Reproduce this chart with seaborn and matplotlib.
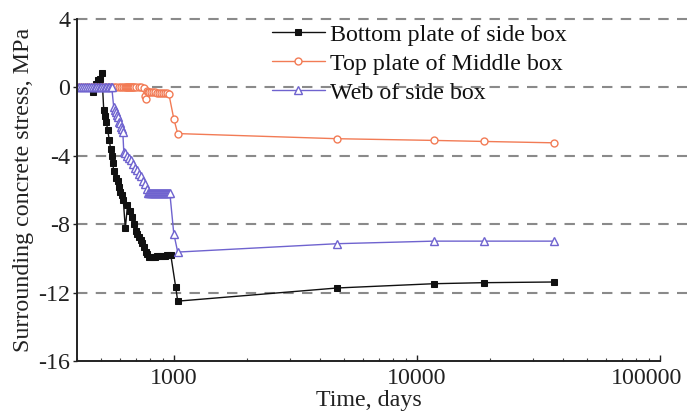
import matplotlib
matplotlib.use("Agg")
import matplotlib.pyplot as plt
import matplotlib.ticker as mticker
import matplotlib.transforms as mtransforms
import seaborn as sns
import pandas as pd

# Bottom plate of side box
bottom_days = [400, 412, 424, 436, 448, 458, 465, 472, 480, 490, 498, 506,
               515, 520, 528, 535, 543, 550, 556, 561, 566, 577, 587, 594,
               602, 611, 620, 632, 645, 659, 672, 685, 698, 708, 718, 732,
               743, 756, 767, 778, 789, 804, 819, 835, 851, 868, 884, 901,
               918, 936, 954, 972, 1019, 1038, 4700, 11750, 18800, 36500]
bottom_stress = [0, 0, 0, 0, 0, 0, -0.25, 0.05, 0.2, 0.45, 0.5, 0.85,
                 -1.3, -1.7, -2.05, -2.5, -3.1, -3.6, -4.0, -4.4, -4.9, -5.3, -5.5, -5.8,
                 -6.1, -6.3, -6.6, -8.25, -6.9, -7.2, -7.6, -8.0, -8.4, -8.6, -8.75, -8.95,
                 -9.1, -9.35, -9.6, -9.75, -9.9, -9.9, -9.9, -9.9, -9.88, -9.88, -9.85, -9.85,
                 -9.85, -9.83, -9.82, -9.8, -11.7, -12.5, -11.73, -11.48, -11.42, -11.38]

# Top plate of Middle box
top_days = [400, 415, 430, 445, 460, 475, 490, 505, 520, 535, 550, 566,
            580, 594, 605, 617, 629, 635, 641, 647, 653, 659, 665, 672,
            678, 685, 698, 718, 735, 753, 760, 767, 774, 782, 789, 804,
            819, 835, 851, 868, 884, 901, 918, 936, 954, 1000, 1038,
            4700, 11750, 18800, 36500]
top_stress = [0, 0, 0, 0, 0, 0, 0, 0, 0, 0, 0, 0,
              0, 0, 0, 0, 0, 0, 0, 0, 0, 0, 0, 0,
              0, 0, 0, 0, 0, -0.05, -0.5, -0.65, -0.2, -0.25, -0.27, -0.27,
              -0.28, -0.28, -0.3, -0.3, -0.3, -0.32, -0.33, -0.35, -0.37, -1.83, -2.7,
              -3.0, -3.1, -3.16, -3.24]

# Web of side box
web_days = [400, 408, 416, 424, 432, 440, 448, 456, 464, 472, 480, 488,
            496, 504, 512, 520, 528, 536, 544, 551, 556,
            566, 572, 577, 583, 588, 594, 599, 605, 611, 617, 623, 632,
            641, 653, 665, 678, 691, 705, 718, 732, 746, 760, 774, 782,
            789, 797, 804, 812, 819, 827, 835, 843, 851, 860, 868, 876,
            884, 893, 901, 910, 918, 927, 936, 945, 954, 963, 1000, 1038,
            4700, 11750, 18800, 36500]
web_stress = [0, 0, 0, 0, 0, 0, 0, 0, 0, 0, 0, 0,
              0, 0, 0, 0, 0, 0, 0, 0, 0,
              -1.15, -1.3, -1.45, -1.6, -1.75, -2.0, -2.1, -2.3, -2.45, -2.6, -3.8, -3.85,
              -4.0, -4.15, -4.25, -4.5, -4.7, -4.85, -5.05, -5.2, -5.45, -5.65, -5.95, -6.15,
              -6.2, -6.2, -6.2, -6.2, -6.2, -6.2, -6.2, -6.2, -6.2, -6.2, -6.2, -6.2,
              -6.2, -6.18, -6.18, -6.18, -6.18, -6.18, -6.17, -6.17, -6.15, -6.15, -8.55, -9.63,
              -9.14, -8.99, -8.99, -8.99]

series_labels = ["Bottom plate of side box", "Top plate of Middle box", "Web of side box"]
y_ticks = [4, 0, -4, -8, -12, -16]
x_ticks = [1000, 10000, 100000]
x_tick_labels = ["1000", "10000", "100000"]

FS = 17.3

sns.set_theme(style="ticks")
plt.rcParams["font.family"] = ["Liberation Serif", "DejaVu Serif"]
plt.rcParams["font.size"] = FS

fig = plt.figure(figsize=(6.94, 4.17), dpi=100)
ax = fig.add_axes([0.111, 0.1343, 0.840, 0.8201])

# dashed reference lines, running a little past the right end of the axis
for yv in y_ticks[:-1]:
    ax.axhline(yv, xmin=0, xmax=1.047, color="#8a8a8a", lw=1.5,
               ls=(0, (5, 4)), zorder=0.5, clip_on=False)

black = "#111111"
orange = "#F27B55"
purple = "#6F63CF"

df_b = pd.DataFrame({"days": bottom_days, "stress": bottom_stress})
df_t = pd.DataFrame({"days": top_days, "stress": top_stress})
df_w = pd.DataFrame({"days": web_days, "stress": web_stress})

sns.lineplot(data=df_b, x="days", y="stress", ax=ax, color=black, lw=1.0,
             marker="s", markersize=4.8, mfc=black, mec=black,
             estimator=None, sort=False, label=series_labels[0])
sns.lineplot(data=df_t, x="days", y="stress", ax=ax, color=orange, lw=1.0,
             marker="o", markersize=5, mfc="white", mec=orange, mew=1.0,
             estimator=None, sort=False, label=series_labels[1])
sns.lineplot(data=df_w, x="days", y="stress", ax=ax, color=purple, lw=1.0,
             marker="^", markersize=5.5, mfc="white", mec=purple, mew=1.0,
             estimator=None, sort=False, label=series_labels[2])

ax.set_xscale("log")
ax.set_xlim(400, 100000)
ax.set_ylim(-16, 4)
ax.xaxis.set_major_locator(mticker.FixedLocator(x_ticks))
ax.xaxis.set_major_formatter(mticker.FixedFormatter(x_tick_labels))
ax.xaxis.set_minor_formatter(mticker.NullFormatter())
ax.yaxis.set_major_locator(mticker.FixedLocator(y_ticks))
ax.yaxis.set_major_formatter(mticker.FuncFormatter(lambda v, p: f"{int(v)}"))

for side in ("top", "right"):
    ax.spines[side].set_visible(False)
for side in ("left", "bottom"):
    ax.spines[side].set_color("#222222")
    ax.spines[side].set_linewidth(1.4)

ax.tick_params(axis="x", which="major", direction="in", length=4, width=1,
               labelsize=FS, pad=5, colors="#222222", labelcolor="#222222")
ax.tick_params(axis="x", which="minor", direction="in", length=2, width=0.8,
               colors="#444444")
ax.tick_params(axis="y", which="major", direction="out", length=3, width=1,
               labelsize=FS, pad=2, colors="#222222", labelcolor="#222222")

ax.set_xlabel("Time, days", fontsize=FS, labelpad=1, color="#222222")
ax.set_ylabel("Surrounding concrete stress, MPa", fontsize=FS, labelpad=3,
              color="#222222")

# keep the last x tick label inside the figure edge
fig.canvas.draw()
last_label = ax.get_xticklabels()[-1]
last_label.set_transform(last_label.get_transform() +
                         mtransforms.ScaledTranslation(-0.13, 0, fig.dpi_scale_trans))

leg = ax.legend(loc="upper left", bbox_to_anchor=(0.318, 1.014), frameon=False,
                fontsize=FS, handlelength=2.2, handletextpad=0.2,
                labelspacing=0.3, borderaxespad=0.0)
for txt in leg.get_texts():
    txt.set_color("#111111")

fig.savefig("out.png", dpi=100)
